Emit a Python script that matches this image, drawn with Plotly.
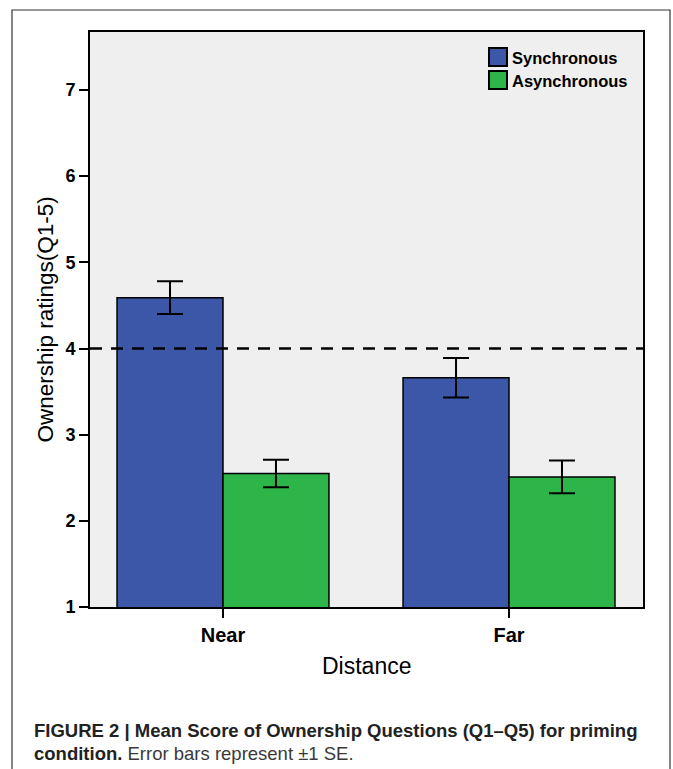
import plotly.graph_objects as go

# Ownership ratings (Q1-5) by distance and synchrony, with ±1 SE
distances = ["Near", "Far"]
sync_means = [4.59, 3.66]
sync_se = [0.19, 0.23]
async_means = [2.55, 2.51]
async_se = [0.16, 0.19]
series_names = ["Synchronous", "Asynchronous"]
y_ticks = [1, 2, 3, 4, 5, 6, 7]
reference_level = 4

BLUE = "#3d57a8"
GREEN = "#2db54a"
W, H = 673, 769
L, R, T, B = 90, 30, 32, 162
PW, PH = W - L - R, H - T - B
SANS = "Liberation Sans, Arial, sans-serif"


def px_x(x):
    return (x - L) / PW


def px_y(y):
    return (H - B - y) / PH


fig = go.Figure()
for name, means, se, color in [
    (series_names[0], sync_means, sync_se, BLUE),
    (series_names[1], async_means, async_se, GREEN),
]:
    fig.add_trace(go.Bar(
        x=distances, y=means, name=name,
        marker=dict(color=color, line=dict(color="black", width=1.5)),
        error_y=dict(type="data", array=se, visible=True, color="black",
                     thickness=2, width=13),
        showlegend=False,
    ))

# dashed reference line across the plot
fig.add_shape(type="line", xref="paper", x0=0, x1=1, yref="y",
              y0=reference_level, y1=reference_level,
              line=dict(color="black", width=2.5, dash="12px,9px"))

# legend drawn by hand: square swatches with bold labels
for i, (name, color) in enumerate(zip(series_names, [BLUE, GREEN])):
    top = 48 + i * 23
    fig.add_shape(type="rect", xref="paper", yref="paper",
                  x0=px_x(489), x1=px_x(507), y0=px_y(top + 18), y1=px_y(top),
                  fillcolor=color, line=dict(color="black", width=2))
    fig.add_annotation(x=px_x(510), y=px_y(top + 10), xref="paper", yref="paper",
                       text=f"<b>{name}</b>", showarrow=False,
                       xanchor="left", yanchor="middle",
                       font=dict(family=SANS, size=16.5, color="black"))

# outer figure frame
fig.add_shape(type="rect", xref="paper", yref="paper",
              x0=px_x(12), x1=px_x(670), y0=px_y(790), y1=px_y(10),
              line=dict(color="#333333", width=1.2), layer="below")

# axis titles
fig.add_annotation(x=px_x(45), y=0.5, xref="paper", yref="paper",
                   text="Ownership ratings(Q1-5)", textangle=-90, showarrow=False,
                   xanchor="center", yanchor="middle",
                   font=dict(family=SANS, size=22.5, color="black"))
fig.add_annotation(x=px_x(366), y=px_y(666), xref="paper", yref="paper",
                   text="Distance", showarrow=False, xanchor="center", yanchor="middle",
                   font=dict(family=SANS, size=23, color="black"))

# caption
cap_font = dict(family=SANS, size=18.5, color="#222222")
fig.add_annotation(x=px_x(32), y=px_y(730), xref="paper", yref="paper",
                   text="<b>FIGURE 2 | Mean Score of Ownership Questions (Q1–Q5) for priming</b>",
                   showarrow=False, xanchor="left", yanchor="middle", font=cap_font)
fig.add_annotation(x=px_x(32), y=px_y(753), xref="paper", yref="paper",
                   text="<b>condition.</b> <span style='color:#3a3a3a'>Error bars represent ±1 SE.</span>",
                   showarrow=False, xanchor="left", yanchor="middle", font=cap_font)

fig.update_layout(
    width=W, height=H,
    margin=dict(l=L, r=R, t=T, b=B),
    paper_bgcolor="white", plot_bgcolor="#efefef",
    barmode="group", bargap=0.259, bargroupgap=0,
    xaxis=dict(range=[-0.465, 1.4685], showgrid=False, zeroline=False,
               showline=True, mirror=True, linecolor="black", linewidth=2,
               ticks="outside", ticklen=9, tickwidth=1.5, tickcolor="black",
               tickvals=distances, ticktext=[f"<b>{d}</b>" for d in distances],
               tickfont=dict(family=SANS, size=20, color="black")),
    yaxis=dict(range=[1, 7.673], showgrid=False, zeroline=False,
               showline=True, mirror=True, linecolor="black", linewidth=2,
               tickvals=y_ticks, ticktext=[f"<b>{v}</b>" for v in y_ticks],
               ticks="outside", ticklen=9, tickwidth=1.5, tickcolor="black",
               tickfont=dict(family=SANS, size=18, color="black")),
)

fig.write_html("out.html")
